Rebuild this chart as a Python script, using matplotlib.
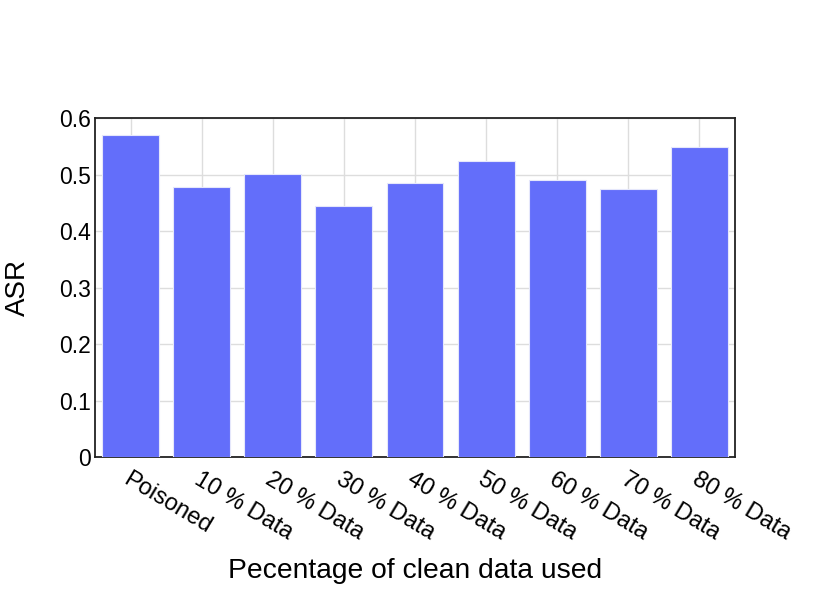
import matplotlib.pyplot as plt

# datos del gráfico
categorias = ['Poisoned', '10 % Data', '20 % Data', '30 % Data', '40 % Data',
              '50 % Data', '60 % Data', '70 % Data', '80 % Data']
asr = [0.570, 0.478, 0.501, 0.444, 0.485, 0.524, 0.490, 0.474, 0.549]
yticks = [0, 0.1, 0.2, 0.3, 0.4, 0.5, 0.6]
ytick_labels = ['0', '0.1', '0.2', '0.3', '0.4', '0.5', '0.6']

plt.rcParams['font.family'] = ['Liberation Sans', 'DejaVu Sans']

fig = plt.figure(figsize=(8.31, 5.93), dpi=100)
ax = fig.add_axes([0.1143, 0.2293, 0.7702, 0.5717])

x = list(range(len(categorias)))
ax.bar(x, asr, width=0.8, color='#636efa', edgecolor='#e5e7fb', linewidth=0.8, zorder=3)

ax.set_xlim(-0.5, len(categorias) - 0.5)
ax.set_ylim(0, 0.6)
ax.set_yticks(yticks)
ax.set_yticklabels(ytick_labels, fontsize=16.5)
ax.set_xticks(x)
ax.set_xticklabels(categorias, fontsize=17, rotation=-31, ha='left', va='top',
                   rotation_mode='anchor')

ax.grid(True, color='#dddddd', linewidth=1, zorder=0)
ax.tick_params(axis='both', length=0, colors='black')
ax.tick_params(axis='x', pad=8)
ax.tick_params(axis='y', pad=3)
for s in ax.spines.values():
    s.set_color('#222222')
    s.set_linewidth(1.3)

ax.set_ylabel('ASR', fontsize=20, labelpad=20)
ax.set_xlabel('Pecentage of clean data used', fontsize=20.3, labelpad=10)

plt.savefig('out.png', dpi=100)
plt.close()
